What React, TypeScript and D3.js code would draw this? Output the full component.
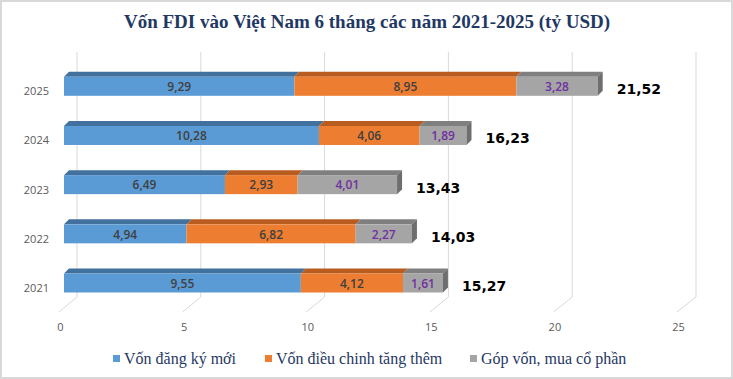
import React from "react";
import * as d3 from "d3";

const years = ["2025", "2024", "2023", "2022", "2021"];
const newCapital = [9.29, 10.28, 6.49, 4.94, 9.55];
const adjustedCapital = [8.95, 4.06, 2.93, 6.82, 4.12];
const shareCapital = [3.28, 1.89, 4.01, 2.27, 1.61];
const totals = [21.52, 16.23, 13.43, 14.03, 15.27];
const xTicks = [0, 5, 10, 15, 20, 25];
const seriesNames = ["Vốn đăng ký mới", "Vốn điều chinh tăng thêm", "Góp vốn, mua cổ phần"];

const W = 733;
const H = 379;

const fmt = (v: number) => d3.format(".2f")(v).replace(".", ",");

export default function App() {
  const xBar = d3.scaleLinear().domain([0, 25]).range([64, 684]);
  const xBack = d3.scaleLinear().domain([0, 25]).range([77, 696]);
  const xFloor = d3.scaleLinear().domain([0, 25]).range([59, 677]);
  const yC = d3.scalePoint<string>().domain(years).range([86.3, 283]);
  const barH = 19;
  const dx = 5;
  const dy = 5;

  const series = [newCapital, adjustedCapital, shareCapital];
  const front = ["#5B9BD5", "#ED7D31", "#A5A5A5"];
  const top = ["#41719C", "#B85C1F", "#7F7F7F"];
  const side = ["#3A6690", "#A9521B", "#6E6E6E"];
  const labelColor = ["#404040", "#404040", "#7030A0"];

  const stacked = d3.stack<number>().keys([0, 1, 2] as any).value((_d, k) => series[k as any][_d])(
    years.map((_, i) => i) as any
  );

  const legendX = [113, 265, 470];

  return (
    <svg
      width={W}
      height={H}
      style={{ position: "absolute", left: 0, top: 0, display: "block", background: "#fff" }}
    >
      <rect x={1} y={1} width={W - 2} height={H - 2} fill="#fff" stroke="#D9D9D9" strokeWidth={2} />
      <text
        x={367}
        y={28}
        textAnchor="middle"
        fontFamily="'Liberation Serif', 'Times New Roman', serif"
        fontWeight="bold"
        fontSize={19}
        fill="#1F3864"
      >
        Vốn FDI vào Việt Nam 6 tháng các năm 2021-2025 (tỷ USD)
      </text>

      {/* back wall gridlines and floor */}
      {xTicks.map((t) => (
        <g key={"g" + t}>
          <line x1={xBack(t)} x2={xBack(t)} y1={52} y2={297} stroke="#D9D9D9" strokeWidth={1} />
          <line x1={xBack(t)} y1={297} x2={xFloor(t)} y2={312} stroke="#D9D9D9" strokeWidth={1} />
          <text
            x={xFloor(t) + 1.5}
            y={327}
            dy="0.35em"
            textAnchor="middle"
            fontFamily="'Open Sans', sans-serif"
            fontSize={11}
            fill="#595959"
          >
            {t}
          </text>
        </g>
      ))}

      {/* year labels */}
      {years.map((y) => (
        <text
          key={"y" + y}
          x={49}
          y={(yC(y) as number) + 5}
          dy="0.35em"
          textAnchor="end"
          fontFamily="'Open Sans', sans-serif"
          fontSize={11}
          fill="#595959"
        >
          {y}
        </text>
      ))}

      {/* bars */}
      {stacked.map((layer, k) =>
        layer.map((d, i) => {
          const cy = yC(years[i]) as number;
          const y0 = cy - barH / 2;
          const xa = xBar(d[0]);
          const xb = xBar(d[1]);
          const isLast = k === 2;
          return (
            <g key={"b" + k + "-" + i}>
              <polygon
                points={`${xa},${y0} ${xa + dx},${y0 - dy} ${xb + dx},${y0 - dy} ${xb},${y0}`}
                fill={top[k]}
              />
              <rect x={xa} y={y0} width={xb - xa} height={barH} fill={front[k]} />
              {isLast && (
                <polygon
                  points={`${xb},${y0} ${xb + dx},${y0 - dy} ${xb + dx},${y0 + barH - dy} ${xb},${y0 + barH}`}
                  fill={side[k]}
                />
              )}
              <text
                x={(xa + xb) / 2}
                y={cy + 0.5}
                dy="0.35em"
                textAnchor="middle"
                fontFamily="'Open Sans', sans-serif"
                fontWeight={600}
                fontSize={12}
                fill={labelColor[k]}
              >
                {fmt(series[k][i])}
              </text>
            </g>
          );
        })
      )}

      {/* totals */}
      {years.map((y, i) => {
        const end = xBar(newCapital[i] + adjustedCapital[i] + shareCapital[i]);
        return (
          <text
            key={"t" + y}
            x={end + 19}
            y={(yC(y) as number) + 3}
            dy="0.35em"
            fontFamily="'DejaVu Sans', Verdana, sans-serif"
            fontWeight="bold"
            fontSize={14}
            fill="#000"
          >
            {fmt(totals[i])}
          </text>
        );
      })}

      {/* legend */}
      {seriesNames.map((name, k) => (
        <g key={"l" + k}>
          <rect x={legendX[k]} y={355} width={7} height={7} fill={front[k]} />
          <text
            x={legendX[k] + 11}
            y={358.5}
            dy="0.35em"
            fontFamily="'Liberation Serif', 'Times New Roman', serif"
            fontSize={16}
            fill="#1F3864"
          >
            {name}
          </text>
        </g>
      ))}
    </svg>
  );
}
